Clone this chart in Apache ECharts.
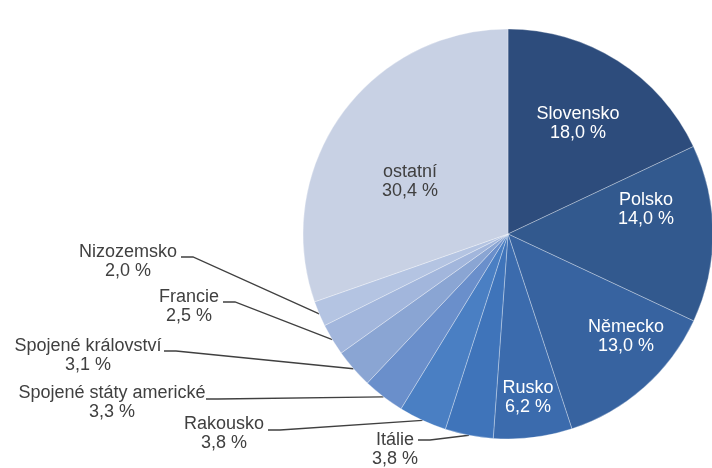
<!DOCTYPE html>
<html>
<head>
<meta charset="utf-8">
<script src="https://cdn.jsdelivr.net/npm/echarts@6/dist/echarts.min.js"></script>
<style>
html,body{margin:0;padding:0;background:#fff;}
#chart{width:712px;height:468px;}
</style>
</head>
<body>
<div id="chart"></div>
<script>
// Data
const countries = ['Slovensko','Polsko','Německo','Rusko','Itálie','Rakousko','Spojené státy americké','Spojené království','Francie','Nizozemsko','ostatní'];
const shares = [18.0, 14.0, 13.0, 6.2, 3.8, 3.8, 3.3, 3.1, 2.5, 2.0, 30.4];
const insideLabels = ['Slovensko','Polsko','Německo','Rusko','ostatní'];

// Styles / layout (not data)
const sliceColors = ['#2d4c7c','#32598e','#3763a0','#3b6bad','#3f74ba','#4a7fc3','#6a8fcb','#8aa5d3','#a2b6dc','#b4c4e2','#c8d1e4'];
const labelCenters = {
  'Slovensko':[578,124], 'Polsko':[646,210], 'Německo':[626,337], 'Rusko':[528,398], 'ostatní':[410,182],
  'Itálie':[395,450], 'Rakousko':[224,434], 'Spojené státy americké':[112,403],
  'Spojené království':[88,356], 'Francie':[189,307], 'Nizozemsko':[128,262]
};
const lineEnds = {
  'Itálie':[418,440], 'Rakousko':[268,430], 'Spojené státy americké':[206,399],
  'Spojené království':[164,351], 'Francie':[223,302], 'Nizozemsko':[181,257]
};

const fmt = v => v.toFixed(1).replace('.', ',') + ' %';
const fontFam = '"Liberation Sans", Arial, sans-serif';

const data = countries.map((name, i) => {
  const inside = insideLabels.indexOf(name) >= 0;
  const txtColor = inside && name !== 'ostatní' ? '#ffffff' : '#404040';
  return {
    name: name,
    value: shares[i],
    itemStyle: { color: sliceColors[i] },
    label: {
      position: inside ? 'inside' : 'outside',
      rich: { n: { color: txtColor, fontSize: 18, lineHeight: 19, fontFamily: fontFam, align: 'center' } }
    },
    labelLine: { show: !inside }
  };
});

const chart = echarts.init(document.getElementById('chart'), null, { renderer: 'canvas' });
chart.setOption({
  animation: false,
  backgroundColor: '#ffffff',
  series: [{
    type: 'pie',
    center: [508, 234],
    radius: [0, 205],
    startAngle: 90,
    clockwise: true,
    avoidLabelOverlap: false,
    itemStyle: { borderColor: 'rgba(255,255,255,0.3)', borderWidth: 1 },
    label: {
      show: true,
      formatter: p => '{n|' + p.name + '}\n{n|' + fmt(p.value) + '}'
    },
    labelLine: { show: true, length: 10, length2: 10, lineStyle: { color: '#404040', width: 1.3 } },
    labelLayout: function (params) {
      const name = countries[params.dataIndex];
      const c = labelCenters[name];
      const res = { x: c[0], y: c[1], align: 'center', verticalAlign: 'middle' };
      const e = lineEnds[name];
      if (e && params.labelLinePoints) {
        const start = params.labelLinePoints[0];
        res.labelLinePoints = [start, [e[0] + 12, e[1]], [e[0], e[1]]];
      }
      return res;
    },
    data: data
  }]
});
</script>
</body>
</html>
